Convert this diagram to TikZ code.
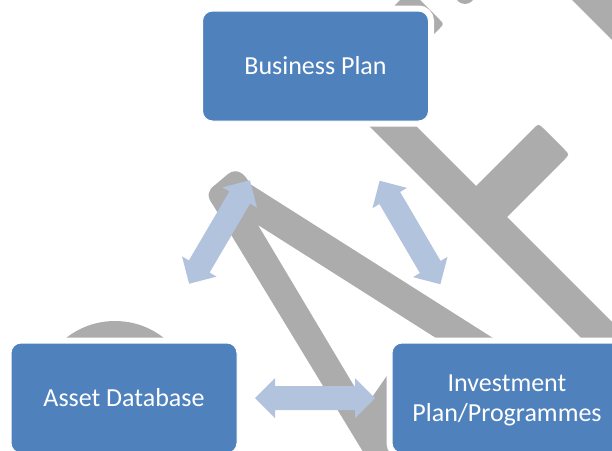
\documentclass[tikz,border=0pt]{standalone}
\usepackage{fontspec}
\setmainfont{Carlito}
\definecolor{boxblue}{RGB}{79,129,189}
\definecolor{linkblue}{RGB}{178,195,222}
\definecolor{markgray}{RGB}{172,172,172}
\tikzset{
  planbox/.style={rectangle, rounded corners=10pt, fill=boxblue,
    draw=white, line width=1pt,
    preaction={draw=white, line width=11pt},
    minimum width=226pt, minimum height=110pt, inner sep=0pt,
    text=white, font=\fontsize{26}{30}\selectfont, align=center},
  wmark/.style={fill=markgray},
  linkarrow/.style={fill=linkblue},
  pics/dblarrow/.style={code={
    \fill[linkarrow] (-60,0) -- (-40,-20) -- (-40,-12) -- (40,-12) -- (40,-20)
      -- (60,0) -- (40,20) -- (40,12) -- (-40,12) -- (-40,20) -- cycle;}}
}
\begin{document}
\begin{tikzpicture}[x=1pt,y=-1pt]
\useasboundingbox (0,0) rectangle (612,450);
\clip (0,0) rectangle (612,450);

% background lettering
\fill[wmark] (368,460) -- (213,205) .. controls (206,196) and (208,190) .. (215,185)
  -- (228,174) .. controls (236,168) and (244,172) .. (250,184)
  -- (504,345) -- (447,345) -- (258,225) -- (366,406) -- (395,364) -- (395,460) -- cycle;
\fill[wmark] (343,100) -- (390,100) -- (680,390) -- (633,390) -- cycle;
\fill[wmark] (461,201) -- (533,129) .. controls (538.5,123.5) .. (544,129)
  -- (564,149) .. controls (569.5,154.5) .. (564,160) -- (492,232) -- cycle;
\fill[wmark] (350,50) -- (405,-5) .. controls (410,-10) .. (415,-5)
  -- (439,19) .. controls (444,24) .. (439,29) -- (384,84) -- cycle;
\fill[wmark] (465,-6) circle[radius=10];
\fill[wmark] (565,-7) -- (660,-7) -- (660,88) -- cycle;
\fill[wmark] (115,400) circle[radius=79];

% boxes
\node[planbox] (business) at (315.5,66) {Business Plan};
\node[planbox] (asset) at (124,398) {Asset Database};
\node[planbox, minimum width=240pt, text depth=0pt] (invest) at (512,398)
  {\hspace*{-10pt}Investment\\\hspace*{-10pt}Plan/Programmes};

% two-way links
\pic[rotate=59.6] at (219.5,232) {dblarrow};
\pic[rotate=-59.6] at (410,232.5) {dblarrow};
\pic at (315,398) {dblarrow};
\end{tikzpicture}
\end{document}
